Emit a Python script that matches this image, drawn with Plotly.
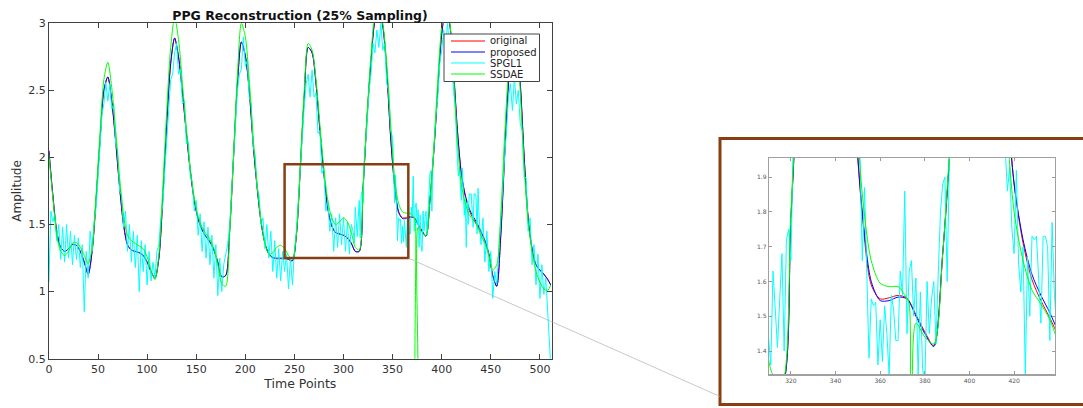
import plotly.graph_objects as go

# ---------------- data ----------------
t_smooth = list(range(0, 509, 4)) + [511]

proposed = [
    2.05, 1.72, 1.45, 1.33, 1.30, 1.32, 1.35, 1.345, 1.30, 1.22,   # 0-36
    1.13, 1.30, 1.68, 2.12, 2.50, 2.60, 2.42, 2.12, 1.78, 1.50,    # 40-76
    1.35, 1.31, 1.30, 1.29, 1.27, 1.22, 1.15, 1.10, 1.25, 1.70,    # 80-116
    2.25, 2.70, 2.89, 2.75, 2.48, 2.18, 1.90, 1.68, 1.54, 1.46,    # 120-156
    1.41, 1.37, 1.31, 1.22, 1.11, 1.12, 1.45, 2.00, 2.55, 2.86,    # 160-196
    2.76, 2.50, 2.10, 1.78, 1.52, 1.36, 1.28, 1.255, 1.25, 1.25,   # 200-236
    1.25, 1.24, 1.23, 1.42, 1.92, 2.45, 2.82, 2.78, 2.55, 2.20,    # 240-276
    1.88, 1.62, 1.49, 1.44, 1.43, 1.42, 1.40, 1.36, 1.30, 1.30,    # 280-316
    1.78, 2.30, 2.72, 3.02, 3.10, 2.98, 2.65, 2.15, 1.80, 1.60,    # 320-356
    1.545, 1.545, 1.555, 1.55, 1.50, 1.45, 1.413, 1.68, 2.05, 2.50, # 360-396
    2.92, 3.10, 3.00, 2.65, 2.20, 1.88, 1.72, 1.62, 1.56, 1.51,    # 400-436
    1.45, 1.38, 1.28, 1.12, 1.04, 1.40, 2.00, 2.55, 2.85, 2.90,    # 440-476
    2.55, 2.00, 1.55, 1.32, 1.20, 1.16, 1.13, 1.09, 1.05,          # 480-508, 511
]

original = [
    2.05, 1.72, 1.45, 1.33, 1.30, 1.32, 1.35, 1.345, 1.30, 1.22,
    1.13, 1.30, 1.68, 2.12, 2.50, 2.60, 2.42, 2.12, 1.78, 1.50,
    1.35, 1.31, 1.30, 1.29, 1.27, 1.22, 1.15, 1.10, 1.25, 1.70,
    2.25, 2.70, 2.89, 2.75, 2.48, 2.18, 1.90, 1.68, 1.54, 1.46,
    1.41, 1.37, 1.31, 1.22, 1.11, 1.12, 1.45, 2.00, 2.55, 2.86,
    2.76, 2.50, 2.10, 1.78, 1.52, 1.36, 1.28, 1.25, 1.245, 1.245,
    1.245, 1.24, 1.23, 1.42, 1.92, 2.45, 2.82, 2.78, 2.55, 2.20,
    1.88, 1.62, 1.49, 1.44, 1.43, 1.42, 1.40, 1.36, 1.30, 1.30,
    1.78, 2.30, 2.72, 3.02, 3.10, 2.98, 2.65, 2.15, 1.79, 1.59,
    1.55, 1.553, 1.56, 1.552, 1.505, 1.455, 1.415, 1.68, 2.05, 2.50,
    2.92, 3.10, 3.00, 2.65, 2.20, 1.88, 1.71, 1.605, 1.545, 1.495,
    1.44, 1.38, 1.28, 1.12, 1.04, 1.40, 2.00, 2.55, 2.85, 2.90,
    2.55, 2.00, 1.55, 1.32, 1.20, 1.16, 1.13, 1.09, 1.05,
]

t_ssdae = list(range(0, 373, 4)) + [373, 374, 375] + list(range(376, 509, 4)) + [511]
ssdae = [
    2.02, 1.70, 1.42, 1.30, 1.27, 1.30, 1.36, 1.365, 1.33, 1.27,   # 0-36
    1.21, 1.33, 1.72, 2.18, 2.58, 2.71, 2.52, 2.20, 1.85, 1.57,    # 40-76
    1.42, 1.38, 1.36, 1.34, 1.32, 1.26, 1.16, 1.09, 1.28, 1.78,    # 80-116
    2.35, 2.82, 3.04, 2.88, 2.55, 2.22, 1.92, 1.70, 1.56, 1.48,    # 120-156
    1.43, 1.39, 1.32, 1.20, 1.06, 1.04, 1.42, 2.02, 2.62, 3.00,    # 160-196
    2.90, 2.58, 2.15, 1.80, 1.53, 1.36, 1.28, 1.29, 1.33, 1.345,   # 200-236
    1.32, 1.27, 1.24, 1.43, 1.95, 2.50, 2.85, 2.80, 2.58, 2.24,    # 240-276
    1.92, 1.68, 1.55, 1.50, 1.52, 1.55, 1.52, 1.44, 1.33, 1.31,    # 280-316
    1.80, 2.33, 2.76, 3.06, 3.12, 3.00, 2.70, 2.25, 1.85, 1.66,    # 320-356
    1.595, 1.585, 1.585, 1.55,                                     # 360-372
    1.535, 0.20, 0.20,                                             # 373-375
    1.48, 1.44, 1.42, 1.68, 2.08, 2.58, 2.98, 3.15, 3.02, 2.62,    # 376-412
    2.12, 1.80, 1.66, 1.575, 1.535, 1.49, 1.42, 1.36, 1.27, 1.16,  # 416-452
    1.20, 1.55, 2.15, 2.65, 2.92, 2.90, 2.48, 1.92, 1.52, 1.30,    # 456-492
    1.15, 1.07, 1.02, 1.01, 1.05,                                  # 496-508, 511
]

t_spgl1 = (list(range(0, 309, 2)) + list(range(310, 322)) + list(range(322, 351, 2))
           + list(range(351, 392)) + list(range(392, 415, 2)) + list(range(416, 439))
           + list(range(440, 511, 2)) + [511])
spgl1 = [
    # 0-308 step 2
    1.07, 1.60, 1.52, 1.58, 1.38, 1.50, 1.24, 1.48, 1.22, 1.50,
    1.25, 1.45, 1.20, 1.42, 1.24, 1.40, 1.18, 1.35, 0.85, 1.30,
    1.10, 1.45, 1.30, 1.52, 1.62, 1.90, 2.08, 2.32, 2.40, 2.56,
    2.42, 2.55, 2.36, 2.40, 2.10, 2.05, 1.75, 1.72, 1.48, 1.60,
    1.30, 1.50, 1.22, 1.45, 1.18, 1.42, 1.00, 1.38, 1.15, 1.35,
    1.05, 1.30, 1.08, 1.22, 1.10, 1.30, 1.35, 1.55, 1.65, 1.90,
    2.15, 2.35, 2.58, 2.62, 2.78, 2.85, 2.62, 2.66, 2.40, 2.42,
    2.10, 2.12, 1.85, 1.82, 1.60, 1.68, 1.42, 1.58, 1.30, 1.52,
    1.25, 1.48, 1.20, 1.42, 1.10, 1.35, 0.97, 1.25, 1.00, 1.20,
    1.28, 1.35, 1.48, 1.72, 1.95, 2.25, 2.50, 2.62, 2.66, 2.90,
    2.68, 2.72, 2.45, 2.40, 2.08, 2.02, 1.78, 1.72, 1.50, 1.55,
    1.32, 1.50, 1.25, 1.45, 1.15, 1.38, 1.10, 1.32, 1.08, 1.30,
    1.15, 1.28, 1.02, 1.25, 1.05, 1.30, 1.45, 1.68, 1.92, 2.18,
    2.38, 2.55, 2.62, 2.45, 2.65, 2.45, 2.48, 2.18, 2.20, 1.88,
    1.92, 1.60, 1.68, 1.45, 1.58, 1.30, 1.55, 1.33, 1.58, 1.35,
    1.55, 1.30, 1.52, 1.28, 1.50,
    # 310-321 step 1
    1.44, 1.36, 1.63, 1.50, 1.41, 1.55, 1.68, 1.40, 1.72, 1.75, 1.66, 1.97,
    # 322-350 step 2
    2.05, 2.25, 2.50, 2.62, 2.85, 2.78, 2.95, 2.82, 3.00, 2.80, 2.85, 2.55, 2.50, 2.20, 2.15,
    # 351-391 step 1
    1.95, 1.66, 1.87, 1.60, 1.38, 1.55, 1.53, 1.54, 1.36, 1.49,
    1.37, 1.53, 1.45, 1.33, 1.56, 1.52, 1.43, 1.43, 1.63, 1.56,
    1.86, 1.45, 1.63, 1.66, 1.50, 1.61, 1.33, 1.57, 1.35, 1.30,
    1.60, 1.45, 1.55, 1.60, 1.42, 1.62, 1.80, 1.88, 1.90, 1.60,
    1.95,
    # 392-414 step 2
    2.10, 2.30, 2.45, 2.70, 2.80, 2.95, 2.85, 3.00, 2.80, 2.75, 2.50, 2.35,
    # 416-438 step 1
    1.98, 1.86, 1.93, 1.75, 1.68, 1.92, 1.65, 1.57, 1.70, 1.33,
    1.67, 1.50, 1.73, 1.72, 1.73, 1.58, 1.48, 1.73, 1.73, 1.70,
    1.43, 1.77, 1.57,
    # 440-510 step 2
    1.35, 1.55, 1.22, 1.45, 1.15, 1.30, 0.95, 1.15, 1.05, 1.30,
    1.55, 1.75, 2.00, 2.20, 2.45, 2.55, 2.35, 2.60, 2.40, 2.50,
    2.25, 2.20, 1.85, 1.85, 1.45, 1.55, 1.20, 1.35, 1.05, 1.28,
    0.95, 1.20, 0.98, 1.10, 0.85, 0.62,
    # 511
    0.45,
]

assert len(t_smooth) == len(proposed) == len(original), (len(t_smooth), len(proposed), len(original))
assert len(t_ssdae) == len(ssdae), (len(t_ssdae), len(ssdae))
assert len(t_spgl1) == len(spgl1), (len(t_spgl1), len(spgl1))

series_names = ["original", "proposed", "SPGL1", "SSDAE"]
series_colors = ["rgb(255,0,0)", "rgb(0,0,255)", "rgb(0,255,255)", "rgb(0,255,0)"]

x_ticks = [0, 50, 100, 150, 200, 250, 300, 350, 400, 450, 500]
y_ticks = [0.5, 1, 1.5, 2, 2.5, 3]
y_ticklabels = ["0.5", "1", "1.5", "2", "2.5", "3"]
inset_x_ticks = [320, 340, 360, 380, 400, 420]
inset_y_ticks = [1.4, 1.5, 1.6, 1.7, 1.8, 1.9]

zoom_box_x = [240, 366]      # rectangle drawn on the main plot
zoom_box_y = [1.25, 1.95]
inset_x_range = [310.2, 438.3]
inset_y_range = [1.333, 1.956]

# ---------------- figure ----------------
W, H = 1083, 408
FONT = "DejaVu Sans"
BROWN = "rgb(135,62,18)"

fig = go.Figure()
data = [
    (t_smooth, original, "spline"),
    (t_smooth, proposed, "spline"),
    (t_spgl1, spgl1, "linear"),
    (t_ssdae, ssdae, "spline"),
]
for xa, ya in [("x", "y"), ("x2", "y2")]:
    for (xs, ys, shape), name, color in zip(data, series_names, series_colors):
        fig.add_trace(go.Scatter(
            x=xs, y=ys, name=name, mode="lines",
            line=dict(color=color, width=1.0, shape=shape, smoothing=0.8),
            xaxis=xa, yaxis=ya, showlegend=False, hoverinfo="skip",
        ))

def px(p):
    return p / W

def py(p):
    return 1 - p / H

axis_common = dict(showgrid=False, zeroline=False, showline=True, mirror="ticks",
                   ticks="inside", automargin=False)

fig.update_layout(
    template="none",
    width=W, height=H, autosize=False,
    margin=dict(l=0, r=0, t=0, b=0, pad=0),
    paper_bgcolor="white", plot_bgcolor="white",
    showlegend=False,
    font=dict(family=FONT, color="#333333"),
    title=dict(text="<b>PPG Reconstruction (25% Sampling)</b>", x=px(300), xanchor="center",
               y=py(15.5), yanchor="middle", font=dict(family=FONT, size=12.5, color="#111111")),
    xaxis=dict(domain=[px(48.9), px(551.7)], range=[0, 512], anchor="y",
               tickvals=x_ticks, ticklen=5, tickcolor="#404040", linecolor="#404040", linewidth=1,
               tickfont=dict(family=FONT, size=11, color="#333333"),
               title=dict(text="Time Points", font=dict(family=FONT, size=12.5, color="#333333"), standoff=1),
               **axis_common),
    yaxis=dict(domain=[py(358.7), py(23.3)], range=[0.5, 3], anchor="x",
               tickvals=y_ticks, ticktext=y_ticklabels, ticklen=5, tickcolor="#404040",
               linecolor="#404040", linewidth=1,
               tickfont=dict(family=FONT, size=11, color="#333333"),
               title=dict(text="Amplitude", font=dict(family=FONT, size=12, color="#333333"), standoff=4),
               **axis_common),
    xaxis2=dict(domain=[px(769), px(1055)], range=inset_x_range, anchor="y2",
                tickvals=inset_x_ticks, ticklen=3, tickcolor="#9a9a9a", linecolor="#a0a0a0", linewidth=1.2,
                tickfont=dict(family=FONT, size=6, color="#555555"), **axis_common),
    yaxis2=dict(domain=[py(374.3), py(157.7)], range=inset_y_range, anchor="x2",
                tickvals=inset_y_ticks, ticklen=3, tickcolor="#9a9a9a", linecolor="#a0a0a0", linewidth=1.2,
                tickfont=dict(family=FONT, size=6, color="#555555"), **axis_common),
)

shapes = [
    # zoom rectangle on the main axes
    dict(type="rect", xref="x", yref="y", x0=zoom_box_x[0], x1=zoom_box_x[1],
         y0=zoom_box_y[0], y1=zoom_box_y[1], line=dict(color=BROWN, width=2.5), layer="above"),
    # frame around the inset
    dict(type="rect", xref="paper", yref="paper", x0=px(720), x1=px(1090), y0=py(404.5), y1=py(138.5),
         line=dict(color=BROWN, width=3), fillcolor="rgba(0,0,0,0)", layer="above"),
    # legend box
    dict(type="rect", xref="paper", yref="paper", x0=px(444), x1=px(539.5), y0=py(81.5), y1=py(34),
         line=dict(color="#444444", width=1), fillcolor="white", layer="above"),
]
legend_rows = [41, 52, 63, 74]
for name, color, row in zip(series_names, series_colors, legend_rows):
    shapes.append(dict(type="line", xref="paper", yref="paper", x0=px(451), x1=px(485),
                       y0=py(row), y1=py(row), line=dict(color=color, width=1.2), layer="above"))
fig.update_layout(shapes=shapes)

annotations = []
for name, row in zip(series_names, legend_rows):
    annotations.append(dict(text=name, xref="paper", yref="paper", x=px(487.5), y=py(row),
                            xanchor="left", yanchor="middle", showarrow=False,
                            font=dict(family=FONT, size=10, color="#222222")))
# connector line from the zoom box corner to the inset frame
annotations.append(dict(text="", xref="x", yref="y", x=zoom_box_x[1], y=zoom_box_y[0],
                        showarrow=True, arrowhead=0, arrowwidth=0.7, arrowcolor="#b0b0b0",
                        ax=313, ay=139, standoff=0, startstandoff=0))
fig.update_layout(annotations=annotations)

fig.write_html("out.html", config={"displayModeBar": False, "staticPlot": True},
               post_script="document.body.style.margin='0';document.body.style.overflow='hidden';")
